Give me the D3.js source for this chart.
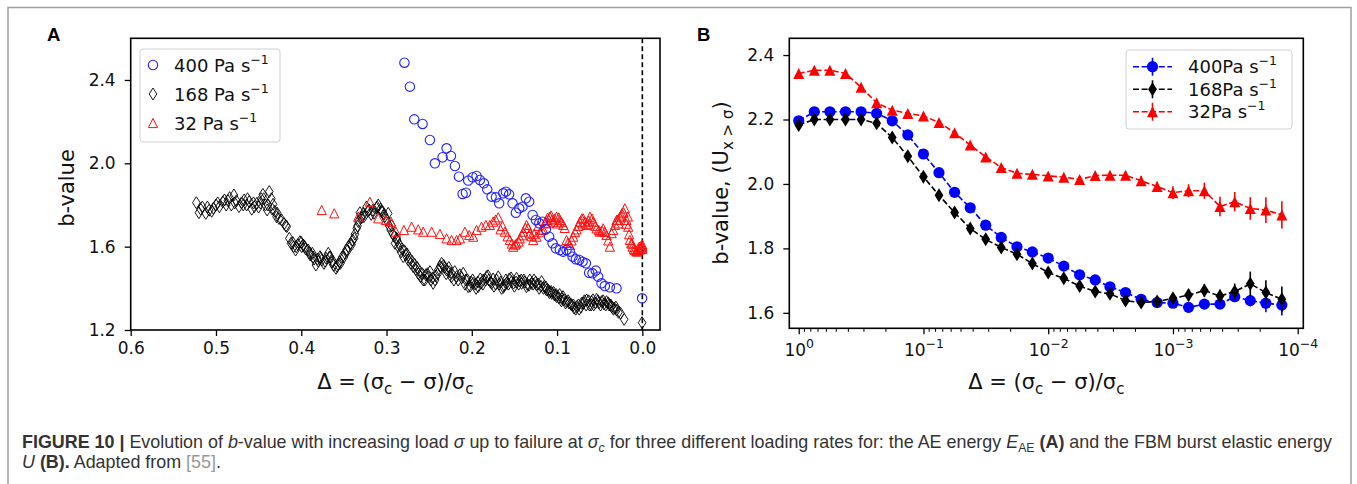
<!DOCTYPE html>
<html>
<head>
<meta charset="utf-8">
<script src="https://cdn.jsdelivr.net/npm/d3@7"></script>
<style>
  body { margin: 0; background: #fff; }
  svg { display: block; }
</style>
</head>
<body>
<div id="chart"></div>
<script>
// ---------- panel A : b-value of AE energy vs distance to failure ----------
const aBlueDelta = [0.279, 0.2726, 0.2675, 0.2577, 0.2491, 0.2433, 0.2343, 0.2296, 0.2245, 0.2198, 0.2151, 0.2108,
  0.2069, 0.2042, 0.199, 0.1944, 0.1905, 0.1858, 0.1819, 0.1768, 0.1717, 0.1679, 0.1632, 0.16, 0.1562, 0.1522,
  0.1483, 0.1444, 0.1405, 0.1366, 0.1327, 0.1287, 0.1248, 0.1209, 0.117, 0.1131, 0.1093, 0.1053, 0.1014, 0.0967,
  0.0929, 0.0889, 0.085, 0.0818, 0.078, 0.0741, 0.0701, 0.0662, 0.0624, 0.0585, 0.0546, 0.0518, 0.0479, 0.044,
  0.0381, 0.0303, 0.0003];
const aBlueB = [2.483, 2.368, 2.211, 2.189, 2.112, 2.0, 2.029, 2.072, 2.035, 1.987, 1.936, 1.853,
  1.859, 1.917, 1.933, 1.939, 1.92, 1.904, 1.875, 1.84, 1.837, 1.808, 1.856, 1.864, 1.851, 1.808,
  1.763, 1.784, 1.792, 1.832, 1.816, 1.752, 1.728, 1.712, 1.72, 1.683, 1.648, 1.616, 1.592, 1.584,
  1.576, 1.584, 1.576, 1.552, 1.539, 1.536, 1.528, 1.52, 1.475, 1.472, 1.485, 1.456, 1.424, 1.411,
  1.405, 1.4, 1.352];

const aBlackDelta = [0.523, 0.52, 0.516, 0.512, 0.508, 0.503, 0.5, 0.496, 0.492, 0.49, 0.486, 0.482, 0.479, 0.476,
  0.473, 0.47, 0.467, 0.464, 0.461, 0.458, 0.455, 0.452, 0.45, 0.447, 0.445, 0.442, 0.44, 0.4375, 0.435, 0.433,
  0.431, 0.429, 0.426, 0.423, 0.42, 0.417, 0.414, 0.412, 0.409, 0.4066, 0.404, 0.4015, 0.3995, 0.3976, 0.395,
  0.392, 0.3895, 0.387, 0.385, 0.3828, 0.38, 0.378, 0.376, 0.3734, 0.371, 0.3683, 0.366, 0.3644, 0.362, 0.3593,
  0.357, 0.3547, 0.352, 0.3488, 0.347, 0.3449, 0.342, 0.3397, 0.337, 0.335, 0.333, 0.3312, 0.329, 0.3265, 0.3235,
  0.3203, 0.318, 0.3148, 0.312, 0.3097, 0.307, 0.3046, 0.302, 0.2999, 0.297, 0.2952, 0.2925, 0.2901, 0.2875,
  0.2863, 0.283, 0.2804, 0.2775, 0.2746, 0.2715, 0.2687, 0.2655, 0.2628, 0.26, 0.257, 0.254, 0.2511, 0.248,
  0.2453, 0.242, 0.2394, 0.237, 0.2354, 0.232, 0.2296, 0.2265, 0.2237, 0.221, 0.2178, 0.214, 0.2101, 0.207,
  0.2042, 0.201, 0.1984, 0.195, 0.1925, 0.189, 0.1866, 0.1827, 0.18, 0.1768, 0.174, 0.1709, 0.168, 0.1651, 0.162,
  0.1592, 0.156, 0.1533, 0.15, 0.1475, 0.144, 0.1416, 0.139, 0.1358, 0.133, 0.1299, 0.127, 0.124, 0.121, 0.1182,
  0.115, 0.1123, 0.109, 0.1064, 0.103, 0.1006, 0.097, 0.0947, 0.092, 0.0889, 0.086, 0.083, 0.08, 0.0771, 0.074,
  0.0713, 0.068, 0.0654, 0.062, 0.0596, 0.057, 0.0537, 0.051, 0.0478, 0.045, 0.042, 0.039, 0.0361, 0.033, 0.0302,
  0.028, 0.0256, 0.0213, 0.0003];
const aBlackB = [1.811, 1.763, 1.79, 1.76, 1.775, 1.784, 1.8, 1.792, 1.815, 1.824, 1.821, 1.8, 1.848, 1.82,
  1.792, 1.81, 1.824, 1.8, 1.816, 1.78, 1.792, 1.808, 1.79, 1.83, 1.851, 1.8, 1.776, 1.864, 1.83, 1.803,
  1.77, 1.744, 1.735, 1.728, 1.71, 1.696, 1.64, 1.616, 1.6, 1.584, 1.61, 1.624, 1.6, 1.608, 1.59,
  1.584, 1.56, 1.568, 1.54, 1.512, 1.53, 1.552, 1.535, 1.52, 1.545, 1.568, 1.55, 1.528, 1.51, 1.496,
  1.515, 1.528, 1.55, 1.568, 1.584, 1.6, 1.615, 1.632, 1.66, 1.688, 1.72, 1.763, 1.74, 1.744, 1.79,
  1.776, 1.755, 1.76, 1.785, 1.8, 1.78, 1.768, 1.745, 1.728, 1.7, 1.68, 1.66, 1.616, 1.63,
  1.6, 1.575, 1.552, 1.56, 1.536, 1.52, 1.504, 1.49, 1.472, 1.455, 1.44, 1.465, 1.456, 1.44,
  1.424, 1.46, 1.488, 1.505, 1.52, 1.5, 1.488, 1.48, 1.472, 1.44, 1.456, 1.465, 1.472, 1.44,
  1.408, 1.43, 1.424, 1.4, 1.408, 1.425, 1.44, 1.456, 1.44, 1.424, 1.41, 1.44, 1.42, 1.4, 1.415,
  1.424, 1.445, 1.432, 1.41, 1.448, 1.435, 1.424, 1.44, 1.408, 1.415, 1.424, 1.44, 1.416, 1.4, 1.432,
  1.41, 1.392, 1.38, 1.376, 1.368, 1.36, 1.37, 1.352, 1.345, 1.336, 1.33, 1.32, 1.305, 1.312, 1.3,
  1.328, 1.34, 1.344, 1.32, 1.336, 1.32, 1.347, 1.33, 1.336, 1.325, 1.336, 1.32, 1.312, 1.305, 1.296,
  1.285, 1.28, 1.251, 1.235];
// second pass over the same band: the overlapping diamonds that make it look thick
const aBlackDelta2 = [0.518, 0.51, 0.505, 0.498, 0.488, 0.484, 0.478, 0.468, 0.463, 0.456, 0.448, 0.444, 0.439,
  0.434, 0.428, 0.418, 0.41, 0.406, 0.4, 0.396, 0.39, 0.386, 0.381, 0.377, 0.372, 0.367, 0.363, 0.358, 0.354,
  0.35, 0.346, 0.341, 0.338, 0.334, 0.33, 0.327, 0.322, 0.316, 0.311, 0.306, 0.303, 0.298, 0.294, 0.291, 0.288,
  0.285, 0.282, 0.279, 0.276, 0.273, 0.27, 0.267, 0.264, 0.261, 0.258, 0.255, 0.252, 0.249, 0.246, 0.243, 0.24,
  0.236, 0.233, 0.23, 0.227, 0.224, 0.22, 0.216, 0.212, 0.208, 0.205, 0.202, 0.199, 0.196, 0.193, 0.19, 0.187,
  0.184, 0.181, 0.178, 0.175, 0.172, 0.169, 0.166, 0.163, 0.16, 0.157, 0.154, 0.151, 0.148, 0.145, 0.142, 0.138,
  0.135, 0.132, 0.128, 0.125, 0.122, 0.119, 0.116, 0.113, 0.11, 0.107, 0.104, 0.101, 0.098, 0.095, 0.093, 0.09,
  0.087, 0.084, 0.081, 0.078, 0.075, 0.072, 0.069, 0.066, 0.063, 0.06, 0.058, 0.055, 0.052, 0.049, 0.046, 0.043,
  0.04, 0.037, 0.034, 0.031];
const aBlackB2 = [1.78, 1.79, 1.77, 1.81, 1.8, 1.835, 1.81, 1.8, 1.83, 1.81, 1.81, 1.83, 1.8,
  1.78, 1.76, 1.7, 1.62, 1.6, 1.62, 1.6, 1.57, 1.55, 1.54, 1.545, 1.53, 1.55, 1.53, 1.505, 1.52,
  1.55, 1.58, 1.61, 1.64, 1.7, 1.74, 1.76, 1.77, 1.775, 1.79, 1.77, 1.755, 1.76, 1.7, 1.65, 1.64,
  1.61, 1.59, 1.58, 1.565, 1.545, 1.53, 1.515, 1.5, 1.48, 1.47, 1.44, 1.47, 1.48, 1.45, 1.44, 1.47,
  1.5, 1.51, 1.47, 1.5, 1.455, 1.48, 1.44, 1.45, 1.42, 1.44, 1.41, 1.44, 1.42, 1.43, 1.445, 1.42,
  1.44, 1.46, 1.43, 1.445, 1.42, 1.455, 1.43, 1.405, 1.44, 1.42, 1.45, 1.425, 1.43, 1.42, 1.44, 1.43,
  1.42, 1.44, 1.42, 1.43, 1.42, 1.41, 1.4, 1.405, 1.39, 1.385, 1.38, 1.37, 1.355, 1.34, 1.36, 1.33,
  1.34, 1.325, 1.32, 1.3, 1.32, 1.31, 1.33, 1.32, 1.34, 1.32, 1.345, 1.33, 1.34, 1.32, 1.34, 1.32,
  1.33, 1.32, 1.3, 1.31];

const aRedDelta = [0.376, 0.3613, 0.3332, 0.3195, 0.3097, 0.3007, 0.2948, 0.289, 0.2796, 0.2706, 0.2628, 0.257,
  0.2471, 0.2374, 0.2296, 0.2237, 0.2178, 0.2139, 0.2081, 0.203, 0.1983, 0.1944, 0.1886, 0.1835, 0.1788, 0.1749,
  0.169, 0.1663, 0.1612, 0.1554, 0.1515, 0.1476, 0.1437, 0.1397, 0.1358, 0.134, 0.1319, 0.13, 0.128, 0.1241,
  0.1202, 0.1163, 0.1124, 0.11, 0.1085, 0.106, 0.1045, 0.1006, 0.099, 0.0967, 0.0928, 0.0889, 0.085, 0.0811,
  0.0772, 0.0733, 0.07, 0.0694, 0.0654, 0.063, 0.0615, 0.0576, 0.0537, 0.0498, 0.0459, 0.042, 0.0381, 0.0342,
  0.0303, 0.028, 0.0264, 0.024, 0.0205, 0.0186, 0.0166, 0.0147, 0.013, 0.0115, 0.0088, 0.0061, 0.005, 0.0037,
  0.002, 0.001, 0.0];
const aRedB = [1.776, 1.76, 1.744, 1.816, 1.736, 1.728, 1.72, 1.672, 1.68, 1.696, 1.683, 1.672,
  1.672, 1.661, 1.64, 1.632, 1.632, 1.64, 1.672, 1.656, 1.648, 1.68, 1.696, 1.704, 1.704, 1.72,
  1.741, 1.683, 1.672, 1.632, 1.6, 1.616, 1.64, 1.672, 1.704, 1.69, 1.664, 1.65, 1.632, 1.648,
  1.669, 1.683, 1.728, 1.712, 1.744, 1.73, 1.72, 1.744, 1.712, 1.728, 1.704, 1.632, 1.608, 1.648,
  1.683, 1.72, 1.712, 1.736, 1.704, 1.725, 1.744, 1.72, 1.688, 1.672, 1.688, 1.656, 1.6, 1.68,
  1.728, 1.712, 1.744, 1.76, 1.784, 1.728, 1.696, 1.632, 1.616, 1.6, 1.584, 1.576, 1.59, 1.6,
  1.588, 1.608, 1.6];
const aRedDelta2 = [0.172, 0.164, 0.158, 0.153, 0.149, 0.145, 0.141, 0.137, 0.127, 0.122, 0.118, 0.114, 0.111,
  0.107, 0.103, 0.098, 0.095, 0.091, 0.087, 0.083, 0.079, 0.075, 0.071, 0.067, 0.063, 0.059, 0.055, 0.051,
  0.047, 0.044, 0.04, 0.036, 0.032, 0.029, 0.025, 0.022, 0.019, 0.017, 0.0155, 0.012, 0.01, 0.007, 0.004,
  0.0015, 0.0, 0.0];
const aRedB2 = [1.73, 1.7, 1.65, 1.615, 1.61, 1.625, 1.655, 1.69, 1.66, 1.7, 1.68, 1.715, 1.74,
  1.75, 1.735, 1.74, 1.72, 1.69, 1.62, 1.63, 1.67, 1.7, 1.735, 1.72, 1.71, 1.735, 1.7, 1.68,
  1.675, 1.67, 1.63, 1.665, 1.705, 1.73, 1.75, 1.765, 1.71, 1.745, 1.66, 1.615, 1.59, 1.58, 1.585,
  1.595, 1.61, 1.59];

const aXTicks = [0.6, 0.5, 0.4, 0.3, 0.2, 0.1, 0.0];
const aYTicks = [1.2, 1.6, 2.0, 2.4];

// ---------- panel B : FBM burst energy b-value ----------
const bDelta = [1, 0.75, 0.5625, 0.4219, 0.3164, 0.2373, 0.178, 0.1335, 0.1001, 0.0751, 0.0563, 0.0422, 0.0317,
  0.0238, 0.0178, 0.0134, 0.01, 0.0075, 0.0056, 0.0042, 0.0032, 0.0024, 0.0018, 0.00134, 0.001, 0.00075,
  0.00056, 0.00042, 0.00032, 0.00024, 0.00018, 0.000134];
const bBlue = [2.196, 2.224, 2.224, 2.224, 2.224, 2.219, 2.196, 2.152, 2.093, 2.035, 1.974, 1.926, 1.872,
  1.834, 1.805, 1.789, 1.77, 1.745, 1.718, 1.702, 1.681, 1.663, 1.642, 1.632, 1.63, 1.617,
  1.627, 1.627, 1.65, 1.638, 1.63, 1.624];
const bBlueErr = [0.01, 0.008, 0.008, 0.008, 0.008, 0.008, 0.008, 0.008, 0.008, 0.008, 0.008, 0.008, 0.008,
  0.008, 0.008, 0.008, 0.008, 0.008, 0.008, 0.008, 0.01, 0.01, 0.01, 0.01, 0.01, 0.012,
  0.012, 0.012, 0.015, 0.018, 0.028, 0.032];
const bBlack = [2.183, 2.2, 2.2, 2.2, 2.2, 2.188, 2.144, 2.086, 2.022, 1.965, 1.911, 1.862, 1.828,
  1.803, 1.782, 1.753, 1.725, 1.707, 1.683, 1.666, 1.659, 1.638, 1.632, 1.635, 1.645, 1.655,
  1.669, 1.652, 1.666, 1.69, 1.663, 1.642];
const bBlackErr = [0.015, 0.01, 0.01, 0.01, 0.01, 0.01, 0.01, 0.01, 0.01, 0.01, 0.01, 0.01, 0.01,
  0.01, 0.01, 0.01, 0.01, 0.01, 0.01, 0.012, 0.012, 0.012, 0.012, 0.012, 0.015, 0.018,
  0.02, 0.02, 0.025, 0.038, 0.038, 0.04];
const bRed = [2.343, 2.353, 2.353, 2.343, 2.3, 2.252, 2.229, 2.219, 2.211, 2.191, 2.159, 2.121, 2.084,
  2.051, 2.033, 2.03, 2.025, 2.021, 2.014, 2.026, 2.027, 2.027, 2.01, 1.992, 1.973, 1.979,
  1.979, 1.93, 1.945, 1.924, 1.919, 1.904];
const bRedErr = [0.008, 0.008, 0.008, 0.008, 0.008, 0.008, 0.008, 0.008, 0.008, 0.008, 0.008, 0.008, 0.008,
  0.01, 0.01, 0.01, 0.01, 0.01, 0.01, 0.01, 0.01, 0.012, 0.015, 0.015, 0.02, 0.02,
  0.025, 0.03, 0.03, 0.035, 0.04, 0.042];

const bXTicks = [1, 0.1, 0.01, 0.001, 0.0001];
const bXTickExp = ['0', '−1', '−2', '−3', '−4'];
const bYTicks = [1.6, 1.8, 2.0, 2.2, 2.4];

const rateLabels = ['400', '168', '32'];

// ---------- drawing ----------
const width = 1357;
const height = 484;
const mplFont = 'DejaVu Sans, sans-serif';
const tickSize = 17;
const labelSize = 21;

const svg = d3.select('#chart')
  .append('svg')
  .attr('width', width)
  .attr('height', height);

// page frame
svg.append('path')
  .attr('d', 'M8,484 V7.5 H1351 V484')
  .attr('fill', 'none')
  .attr('stroke', '#a0a0a0')
  .attr('stroke-width', 1.5);

// marker paths centred on (0,0)
function diamond(w, h) { return `M0,${-h} L${w},0 L0,${h} L${-w},0 Z`; }
function triangle(s) { return `M0,${-s} L${s},${s} L${-s},${s} Z`; }

function deltaLabel(t) {
  t.append('tspan').text('Δ = (σ');
  t.append('tspan').attr('font-size', 15).attr('dy', 5).text('c');
  t.append('tspan').attr('dy', -5).text(' − σ)/σ');
  t.append('tspan').attr('font-size', 15).attr('dy', 5).text('c');
}

function rateText(t, num, gap) {
  t.append('tspan').text(num + gap + 'Pa s');
  t.append('tspan').attr('font-size', 12.5).attr('dy', -8).text('−1');
}

// ===== panel A =====
const A = { left: 130.7, right: 660, top: 38.3, bottom: 330 };
const xA = d3.scaleLinear().domain([0.6, -0.0207]).range([A.left, A.right]);
const yA = d3.scaleLinear().domain([1.2, 2.6]).range([A.bottom, A.top]);

const gA = svg.append('g');

gA.append('g')
  .attr('transform', `translate(0,${A.bottom})`)
  .call(d3.axisBottom(xA).tickValues(aXTicks).tickFormat(d3.format('.1f')).tickSize(6).tickPadding(6))
  .call(g => g.select('.domain').remove());
gA.append('g')
  .attr('transform', `translate(${A.left},0)`)
  .call(d3.axisLeft(yA).tickValues(aYTicks).tickFormat(d3.format('.1f')).tickSize(6).tickPadding(9))
  .call(g => g.select('.domain').remove());
gA.selectAll('.tick text').attr('font-family', mplFont).attr('font-size', tickSize).attr('fill', '#111');
gA.selectAll('.tick line').attr('stroke', '#000').attr('stroke-width', 1.3);

// failure line at delta = 0
gA.append('line')
  .attr('x1', xA(0)).attr('x2', xA(0))
  .attr('y1', A.top).attr('y2', A.bottom)
  .attr('stroke', '#000')
  .attr('stroke-width', 1.6)
  .attr('stroke-dasharray', '5,3');

const blackPts = aBlackDelta.map((d, i) => [d, aBlackB[i]])
  .concat(aBlackDelta2.map((d, i) => [d, aBlackB2[i]]));
gA.append('g').selectAll('path')
  .data(blackPts)
  .enter().append('path')
  .attr('d', diamond(3.8, 6))
  .attr('transform', d => `translate(${xA(d[0])},${yA(d[1])})`)
  .attr('fill', 'none')
  .attr('stroke', '#000')
  .attr('stroke-width', 0.9);

const redPts = aRedDelta.map((d, i) => [d, aRedB[i]])
  .concat(aRedDelta2.map((d, i) => [d, aRedB2[i]]));
gA.append('g').selectAll('path')
  .data(redPts)
  .enter().append('path')
  .attr('d', triangle(4.6))
  .attr('transform', d => `translate(${xA(d[0])},${yA(d[1])})`)
  .attr('fill', 'none')
  .attr('stroke', '#ff1010')
  .attr('stroke-width', 1);

gA.append('g').selectAll('circle')
  .data(aBlueDelta.map((d, i) => [d, aBlueB[i]]))
  .enter().append('circle')
  .attr('cx', d => xA(d[0]))
  .attr('cy', d => yA(d[1]))
  .attr('r', 4.7)
  .attr('fill', 'none')
  .attr('stroke', '#2222ff')
  .attr('stroke-width', 1.1);

gA.append('rect')
  .attr('x', A.left).attr('y', A.top)
  .attr('width', A.right - A.left).attr('height', A.bottom - A.top)
  .attr('fill', 'none')
  .attr('stroke', '#000')
  .attr('stroke-width', 1.6);

// legend A
const legA = gA.append('g');
legA.append('rect')
  .attr('x', 140).attr('y', 49).attr('width', 140).attr('height', 93).attr('rx', 3)
  .attr('fill', '#fff').attr('fill-opacity', 0.8)
  .attr('stroke', '#d0d0d0');
const legAY = [65, 94, 123];
legA.append('circle').attr('cx', 153).attr('cy', legAY[0]).attr('r', 4.7)
  .attr('fill', 'none').attr('stroke', '#2222ff').attr('stroke-width', 1.1);
legA.append('path').attr('d', diamond(3.8, 6)).attr('transform', `translate(153,${legAY[1]})`)
  .attr('fill', 'none').attr('stroke', '#000').attr('stroke-width', 0.9);
legA.append('path').attr('d', triangle(4.6)).attr('transform', `translate(153,${legAY[2]})`)
  .attr('fill', 'none').attr('stroke', '#ff1010');
rateLabels.forEach((r, i) => {
  const t = legA.append('text')
    .attr('x', 174).attr('y', legAY[i] + 6.5)
    .attr('font-family', mplFont).attr('font-size', 18).attr('fill', '#111');
  rateText(t, r, ' ');
});

gA.append('text')
  .attr('transform', 'translate(74,188) rotate(-90)')
  .attr('text-anchor', 'middle')
  .attr('font-family', mplFont).attr('font-size', labelSize).attr('fill', '#111')
  .text('b-value');
gA.append('text')
  .attr('x', (A.left + A.right) / 2).attr('y', 389)
  .attr('text-anchor', 'middle')
  .attr('font-family', mplFont).attr('font-size', labelSize).attr('fill', '#111')
  .call(deltaLabel);

// ===== panel B =====
const B = { left: 789.3, right: 1303.3, top: 38.3, bottom: 328.3 };
const xB = d3.scaleLog().domain([1.19, 9.02e-5]).range([B.left, B.right]);
const yB = d3.scaleLinear().domain([1.552, 2.452]).range([B.bottom, B.top]);

const gB = svg.append('g');

// minor log ticks
const minor = xB.ticks().filter(v => bXTicks.indexOf(v) < 0 && Math.abs(Math.log10(v) % 1) > 1e-6);
gB.append('g').selectAll('line')
  .data(minor)
  .enter().append('line')
  .attr('x1', d => xB(d)).attr('x2', d => xB(d))
  .attr('y1', B.bottom).attr('y2', B.bottom + 3.5)
  .attr('stroke', '#000').attr('stroke-width', 1);

const xAxisB = gB.append('g')
  .attr('transform', `translate(0,${B.bottom})`)
  .call(d3.axisBottom(xB).tickValues(bXTicks).tickFormat('').tickSize(6))
  .call(g => g.select('.domain').remove());
xAxisB.selectAll('.tick').each(function (d, i) {
  const t = d3.select(this).append('text')
    .attr('y', 28).attr('text-anchor', 'middle')
    .attr('font-family', mplFont).attr('font-size', tickSize).attr('fill', '#111');
  t.append('tspan').text('10');
  t.append('tspan').attr('font-size', 12.5).attr('dy', -8).text(bXTickExp[i]);
});
gB.append('g')
  .attr('transform', `translate(${B.left},0)`)
  .call(d3.axisLeft(yB).tickValues(bYTicks).tickFormat(d3.format('.1f')).tickSize(6).tickPadding(9))
  .call(g => g.select('.domain').remove());
gB.selectAll('.tick text').attr('font-family', mplFont).attr('font-size', tickSize).attr('fill', '#111');
gB.selectAll('.tick line').attr('stroke', '#000').attr('stroke-width', 1.3);

const seriesB = [
  { vals: bBlue, err: bBlueErr, color: '#0000ff', marker: 'circle' },
  { vals: bBlack, err: bBlackErr, color: '#000000', marker: 'diamond' },
  { vals: bRed, err: bRedErr, color: '#ff0000', marker: 'triangle' }
];

function drawMarker(g, kind, color) {
  if (kind === 'circle') {
    g.append('circle').attr('r', 5.6).attr('fill', color);
  } else if (kind === 'diamond') {
    g.append('path').attr('d', diamond(4.4, 7)).attr('fill', color);
  } else {
    g.append('path').attr('d', triangle(5.5)).attr('fill', color);
  }
}

const line = d3.line().x(d => xB(d[0])).y(d => yB(d[1]));

seriesB.forEach(s => {
  const pts = bDelta.map((d, i) => [d, s.vals[i], s.err[i]]);
  const g = gB.append('g');
  g.append('path')
    .datum(pts)
    .attr('d', line)
    .attr('fill', 'none')
    .attr('stroke', s.color)
    .attr('stroke-width', 1.6)
    .attr('stroke-dasharray', '6,2.6');
  g.selectAll('.err')
    .data(pts)
    .enter().append('line')
    .attr('x1', d => xB(d[0])).attr('x2', d => xB(d[0]))
    .attr('y1', d => yB(d[1] - d[2])).attr('y2', d => yB(d[1] + d[2]))
    .attr('stroke', s.color)
    .attr('stroke-width', 1.6);
  g.selectAll('.mk')
    .data(pts)
    .enter().append('g')
    .attr('transform', d => `translate(${xB(d[0])},${yB(d[1])})`)
    .each(function () { drawMarker(d3.select(this), s.marker, s.color); });
});

gB.append('rect')
  .attr('x', B.left).attr('y', B.top)
  .attr('width', B.right - B.left).attr('height', B.bottom - B.top)
  .attr('fill', 'none')
  .attr('stroke', '#000')
  .attr('stroke-width', 1.6);

// legend B
const legB = gB.append('g');
legB.append('rect')
  .attr('x', 1126).attr('y', 50).attr('width', 166).attr('height', 79).attr('rx', 3)
  .attr('fill', '#fff').attr('fill-opacity', 0.8)
  .attr('stroke', '#d0d0d0');
const legBY = [66.7, 89.3, 111.7];
seriesB.forEach((s, i) => {
  legB.append('line')
    .attr('x1', 1133).attr('x2', 1172)
    .attr('y1', legBY[i]).attr('y2', legBY[i])
    .attr('stroke', s.color).attr('stroke-width', 1.6)
    .attr('stroke-dasharray', '6,2.6');
  legB.append('line')
    .attr('x1', 1152.5).attr('x2', 1152.5)
    .attr('y1', legBY[i] - 9).attr('y2', legBY[i] + 9)
    .attr('stroke', s.color).attr('stroke-width', 1.6);
  drawMarker(legB.append('g').attr('transform', `translate(1152.5,${legBY[i]})`), s.marker, s.color);
  const t = legB.append('text')
    .attr('x', 1188).attr('y', legBY[i] + 6.5)
    .attr('font-family', mplFont).attr('font-size', 18).attr('fill', '#111');
  rateText(t, rateLabels[i], '');
});

const yLabB = gB.append('text')
  .attr('transform', 'translate(728,183) rotate(-90)')
  .attr('text-anchor', 'middle')
  .attr('font-family', mplFont).attr('font-size', labelSize).attr('fill', '#111');
yLabB.append('tspan').text('b-value, (U');
yLabB.append('tspan').attr('font-size', 15).attr('dy', 5).text('x > σ');
yLabB.append('tspan').attr('dy', -5).text(')');

gB.append('text')
  .attr('x', (B.left + B.right) / 2).attr('y', 389)
  .attr('text-anchor', 'middle')
  .attr('font-family', mplFont).attr('font-size', labelSize).attr('fill', '#111')
  .call(deltaLabel);

// panel letters
[['A', 47, 41], ['B', 697, 41]].forEach(p => {
  svg.append('text')
    .attr('x', p[1]).attr('y', p[2])
    .attr('font-family', 'Liberation Sans, Arial, sans-serif')
    .attr('font-weight', 'bold').attr('font-size', 18.5)
    .text(p[0]);
});

// ---------- caption ----------
const capFont = 'Liberation Sans, Arial, sans-serif';
const capSize = 17.9;
const capSub = 12.3;
const cap1 = svg.append('text')
  .attr('x', 22).attr('y', 447.5)
  .attr('font-family', capFont).attr('font-size', capSize).attr('fill', '#333');
cap1.append('tspan').attr('font-weight', 'bold').text('FIGURE 10 | ');
cap1.append('tspan').text('Evolution of ');
cap1.append('tspan').attr('font-style', 'italic').text('b');
cap1.append('tspan').text('-value with increasing load ');
cap1.append('tspan').attr('font-style', 'italic').text('σ');
cap1.append('tspan').text(' up to failure at ');
cap1.append('tspan').attr('font-style', 'italic').text('σ');
cap1.append('tspan').attr('font-style', 'italic').attr('font-size', capSub).attr('dy', 4).text('c');
cap1.append('tspan').attr('dy', -4).text(' for three different loading rates for: the AE energy ');
cap1.append('tspan').attr('font-style', 'italic').text('E');
cap1.append('tspan').attr('font-size', capSub).attr('dy', 4).text('AE');
cap1.append('tspan').attr('dy', -4).text(' ');
cap1.append('tspan').attr('font-weight', 'bold').text('(A)');
cap1.append('tspan').text(' and the FBM burst elastic energy');

const cap2 = svg.append('text')
  .attr('x', 22).attr('y', 468)
  .attr('font-family', capFont).attr('font-size', capSize).attr('fill', '#333');
cap2.append('tspan').attr('font-style', 'italic').text('U');
cap2.append('tspan').text(' ');
cap2.append('tspan').attr('font-weight', 'bold').text('(B).');
cap2.append('tspan').text(' Adapted from ');
cap2.append('tspan').attr('fill', '#999').text('[55]');
cap2.append('tspan').text('.');
</script>
</body>
</html>
